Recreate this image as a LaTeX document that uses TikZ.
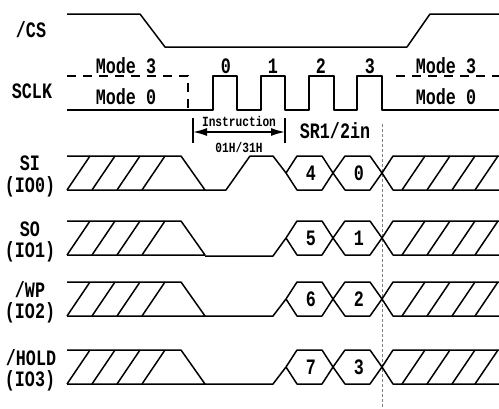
\documentclass[tikz,border=0pt]{standalone}
\usepackage{fontspec}
\newfontfamily\lblfont[FakeStretch=0.76]{Liberation Mono}
\newfontfamily\smlfont[FakeStretch=0.8]{Liberation Mono}
\usetikzlibrary{arrows.meta}
\begin{document}
\begin{tikzpicture}[x=1pt,y=-1pt,
  sig/.style={line width=1.5pt, line join=round},
  dsig/.style={line width=1.5pt, dash pattern=on 9pt off 7pt},
  guide/.style={gray, line width=0.8pt, dash pattern=on 3pt off 2pt},
  lbl/.style={font=\lblfont\bfseries\fontsize{22}{22}\selectfont, inner sep=0pt},
  small/.style={font=\smlfont\bfseries\fontsize{14}{14}\selectfont, inner sep=0pt}]
\useasboundingbox (0,0) rectangle (499,408);
% labels
\node[lbl] (lcs) at (31,30) {/CS};
\node[lbl] (lsclk) at (32,91) {SCLK};
\node[lbl] (lsi) at (30,163) {SI};
\node[lbl] (lsi2) at (30,187) {(IO0)};
\node[lbl] (lso) at (30,229) {SO};
\node[lbl] (lso2) at (30,252) {(IO1)};
\node[lbl] (lwp) at (30,290) {/WP};
\node[lbl] (lwp2) at (30,313) {(IO2)};
\node[lbl] (lhold) at (31,358) {/HOLD};
\node[lbl] (lhold2) at (30,381) {(IO3)};
% CS
\draw[sig] (67,14) -- (140,14) -- (165,47) -- (407,47) -- (430,14) -- (499,14);
% SCLK
\draw[dsig] (67,76) -- (188,76) -- (188,110);
\draw[sig] (67,110) -- (213,110) -- (213,76) -- (237,76) -- (237,110)
  -- (261,110) -- (261,76) -- (285,76) -- (285,110)
  -- (309,110) -- (309,76) -- (334,76) -- (334,110)
  -- (357,110) -- (357,76) -- (382,76) -- (382,110) -- (499,110);
\draw[dsig] (396,76) -- (499,76);
\node[lbl] (m3l) at (126,66) {Mode 3};
\node[lbl] (m0l) at (126,97) {Mode 0};
\node[lbl] (m3r) at (446,66) {Mode 3};
\node[lbl] (m0r) at (446,97) {Mode 0};
\node[lbl] (c0) at (226,66) {0};
\node[lbl] (c1) at (273,66) {1};
\node[lbl] (c2) at (321,66) {2};
\node[lbl] (c3) at (370,66) {3};
% instruction
\coordinate (ia) at (193,132);
\coordinate (ib) at (285,132);
\draw[line width=1.5pt] (193,118) -- (193,143);
\draw[line width=1.5pt] (285,118) -- (285,143);
\draw[line width=1.5pt, {Latex[length=14pt,width=8pt]}-{Latex[length=14pt,width=8pt]}] (ia) -- (ib);
\node[small] (instr) at (239,121) {Instruction};
\node[small] (opc) at (239,148) {01H/31H};
\node[lbl] (sr) at (335,131) {SR1/2in};
\draw[guide] (382,124) -- (382,408);
% data rows
\foreach \T/\a/\b/\nm in {156/4/0/si,221/5/1/so,282/6/2/wp,350/7/3/hold}{
  \pgfmathsetmacro\B{\T+34}
  \pgfmathsetmacro\M{\T+17}
  \draw[sig] (67,\T) -- (181,\T) -- (205,\B) -- (67,\B);
  \foreach \x in {67,92,117,142} \draw[sig] (\x,\B) -- ++(23,-34);
  \draw[sig] (286,\M) -- (297,\T) -- (322,\T) -- (333,\M) -- (345,\T) -- (370,\T) -- (382,\M) -- (393,\T) -- (499,\T);
  \draw[sig] (286,\M) -- (297,\B) -- (322,\B) -- (333,\M) -- (345,\B) -- (370,\B) -- (382,\M) -- (393,\B) -- (499,\B);
  \foreach \x in {402,427,452,475} \draw[sig] (\x,\B) -- ++(23,-34);
  \node[lbl] (\nm a) at (311,\M) {\a};
  \node[lbl] (\nm b) at (359,\M) {\b};
}
\draw[sig] (205,190) -- (226,190) -- (250,156) -- (273,156) -- (286,173);
\draw[sig] (205,256) -- (273,256) -- (286,238);
\draw[sig] (205,316) -- (273,316) -- (286,299);
\draw[sig] (205,384) -- (273,384) -- (286,367);
\end{tikzpicture}
\end{document}
